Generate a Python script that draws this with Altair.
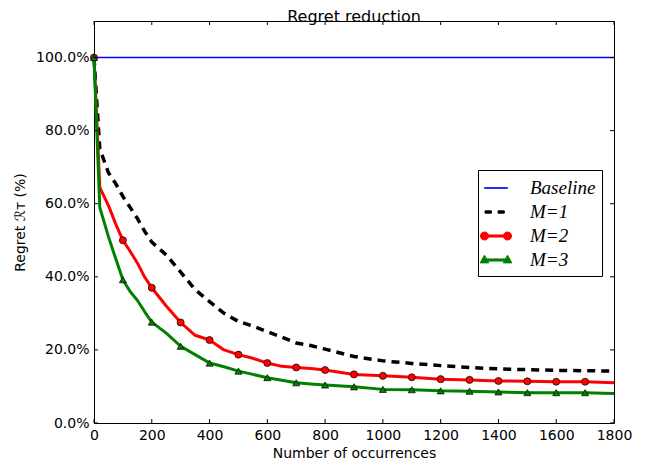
import altair as alt
import pandas as pd

# ---- data ----
occurrences = [0, 20, 50, 75, 100, 125, 150, 175, 200, 250, 300, 350, 400, 450, 500,
               550, 600, 650, 700, 750, 800, 900, 1000, 1100, 1200, 1300, 1400, 1500,
               1600, 1700, 1800]
regret_m1 = [100, 75, 68.5, 65.5, 62, 59, 56, 52.5, 49.5, 46, 41.3, 36.5, 33.2, 30, 27.8,
             26.5, 25, 23.5, 21.9, 21.2, 20.2, 18.2, 17.0, 16.3, 15.7, 15.2, 14.8, 14.6,
             14.4, 14.3, 14.2]
regret_m2 = [100, 64.5, 59.5, 54.5, 50, 47, 43.8, 40, 37, 32, 27.5, 24, 22.7, 20, 18.7,
             17.7, 16.4, 15.5, 15.2, 14.9, 14.5, 13.3, 12.9, 12.5, 12.0, 11.8, 11.5, 11.4,
             11.3, 11.3, 11.0]
regret_m3 = [100, 59, 51, 45, 39.2, 36, 33.6, 30.5, 27.6, 24.6, 21, 18.7, 16.4, 15.4, 14.2,
             13.3, 12.4, 11.7, 11.0, 10.7, 10.4, 9.9, 9.2, 9.1, 8.8, 8.7, 8.5, 8.3,
             8.3, 8.3, 8.1]
baseline_x = [0, 1800]
baseline_y = [100, 100]

series_names = ["Baseline", "M=1", "M=2", "M=3"]
series_colors = ["#0000ff", "#000000", "#ff0000", "#008000"]
x_ticks = [0, 200, 400, 600, 800, 1000, 1200, 1400, 1600, 1800]
y_ticks = [0.0, 0.2, 0.4, 0.6, 0.8, 1.0]

# legend symbols (line + marker glyphs)
legend_paths = [
    "M-1,-0.02H1V0.02H-1Z",
    "M-0.95,-0.1H-0.4V0.1H-0.95Z M0.18,-0.1H0.72V0.1H0.18Z",
    "M-1,-0.09H1V0.09H-1Z M-0.65,0A0.35,0.35 0 1 1 -1.35,0A0.35,0.35 0 1 1 -0.65,0Z "
    "M1.35,0A0.35,0.35 0 1 1 0.65,0A0.35,0.35 0 1 1 1.35,0Z",
    "M-1,-0.09H1V0.09H-1Z M-1,-0.42L-0.62,0.25L-1.38,0.25Z M1,-0.42L1.38,0.25L0.62,0.25Z",
]

rows = []
for xv, yv in zip(baseline_x, baseline_y):
    rows.append({"x": xv, "y": yv / 100, "series": "Baseline"})
for name, vals in [("M=1", regret_m1), ("M=2", regret_m2), ("M=3", regret_m3)]:
    for xv, yv in zip(occurrences, vals):
        rows.append({"x": xv, "y": yv / 100, "series": name})
df = pd.DataFrame(rows)

legend_df = pd.DataFrame({"series": series_names,
                          "x": [float("nan")] * 4, "y": [float("nan")] * 4})

x_enc = alt.X("x:Q", scale=alt.Scale(domain=[0, 1800], nice=False),
              axis=alt.Axis(values=x_ticks, title="Number of occurrences", format="d",
                            titlePadding=4))
y_enc = alt.Y("y:Q", scale=alt.Scale(domain=[0, 1.1], nice=False),
              axis=alt.Axis(values=y_ticks, format=".1%", title="Regret ℛᴛ (%)",
                            titlePadding=8))

base = alt.Chart(df)

def only(name):
    return f"datum.series == '{name}'"

l_base = base.transform_filter(only("Baseline")).mark_line(
    color="#0000ff", strokeWidth=1.4).encode(x=x_enc, y=y_enc)
l_m1 = base.transform_filter(only("M=1")).mark_line(
    color="#000000", strokeWidth=3.5, strokeDash=[8, 6], strokeCap="butt").encode(x=x_enc, y=y_enc)
l_m2 = base.transform_filter(only("M=2")).mark_line(
    color="#ff0000", strokeWidth=3, strokeJoin="round").encode(x=x_enc, y=y_enc)
p_m2 = base.transform_filter(
    "datum.series == 'M=2' && datum.x % 100 == 0 && datum.x < 1800").mark_point(
    shape="circle", filled=True, fill="#ff0000", stroke="#000000", strokeWidth=0.7,
    size=50, opacity=1).encode(x=x_enc, y=y_enc)
l_m3 = base.transform_filter(only("M=3")).mark_line(
    color="#008000", strokeWidth=3, strokeJoin="round").encode(x=x_enc, y=y_enc)
p_m3 = base.transform_filter(
    "datum.series == 'M=3' && datum.x % 100 == 0 && datum.x < 1800").mark_point(
    shape="triangle-up", filled=True, fill="#008000", stroke="#000000", strokeWidth=0.7,
    size=50, opacity=1).encode(x=x_enc, y=y_enc)

# inward tick marks on all four sides
xt = pd.DataFrame({"x": x_ticks})
yt = pd.DataFrame({"y": y_ticks})
tick_xb = alt.Chart(xt).mark_rule(color="black", strokeWidth=1).encode(
    x=alt.X("x:Q"), y=alt.value(402), y2=alt.value(398))
tick_xt = alt.Chart(xt).mark_rule(color="black", strokeWidth=1).encode(
    x=alt.X("x:Q"), y=alt.value(0), y2=alt.value(4))
tick_yl = alt.Chart(yt).mark_rule(color="black", strokeWidth=1).encode(
    y=alt.Y("y:Q"), x=alt.value(0), x2=alt.value(4))
tick_yr = alt.Chart(yt).mark_rule(color="black", strokeWidth=1).encode(
    y=alt.Y("y:Q"), x=alt.value(520), x2=alt.value(516))

legend_layer = alt.Chart(legend_df).mark_point(filled=True, opacity=1).encode(
    x=alt.X("x:Q"), y=alt.Y("y:Q"),
    color=alt.Color("series:N", scale=alt.Scale(domain=series_names, range=series_colors),
                    legend=alt.Legend(title=None, orient="none", legendX=384, legendY=149,
                                      direction="vertical", symbolSize=529,
                                      symbolStrokeWidth=1, labelFont="Liberation Serif",
                                      labelFontStyle="italic", labelFontSize=19,
                                      labelColor="black", labelOffset=22, rowPadding=2,
                                      labelLimit=300)),
    stroke=alt.Stroke("series:N", scale=alt.Scale(domain=series_names, range=series_colors)),
    shape=alt.Shape("series:N", scale=alt.Scale(domain=series_names, range=legend_paths)),
)

chart = alt.layer(
    l_base, l_m1, l_m2, p_m2, l_m3, p_m3, tick_xb, tick_xt, tick_yl, tick_yr, legend_layer
).properties(
    width=520, height=402,
    title=alt.TitleParams("Regret reduction", font="DejaVu Sans", fontSize=16,
                          fontWeight="normal", color="black", anchor="middle", offset=-4),
    padding={"left": 5, "top": 0, "right": 5, "bottom": 0},
).configure_view(
    stroke="black", strokeWidth=1
).configure_axis(
    grid=False, domain=False, ticks=False, tickSize=0, labelFlush=False,
    labelFont="DejaVu Sans", labelFontSize=14, labelColor="black", labelPadding=5,
    titleFont="DejaVu Sans", titleFontSize=14, titleFontWeight="normal", titleColor="black",
).configure_legend(
    strokeColor="black", fillColor="white", padding=6, cornerRadius=0,
)

chart.save("out.html", embed_options={"renderer": "svg", "actions": False})
